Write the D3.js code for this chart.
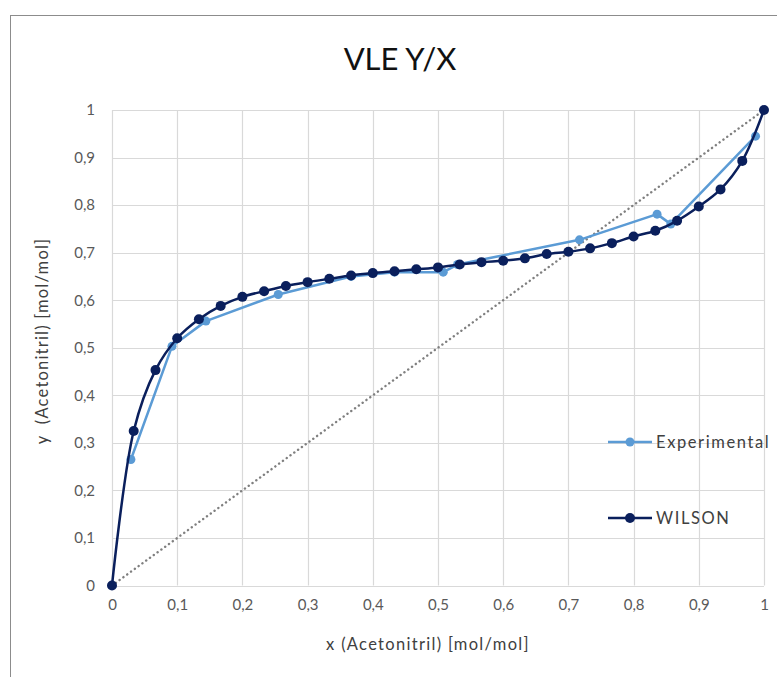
<!DOCTYPE html>
<html>
<head>
<meta charset="utf-8">
<script src="https://cdn.jsdelivr.net/npm/d3@7"></script>
<style>
  html, body { margin: 0; padding: 0; background: #ffffff; }
  svg { display: block; font-family: Lato, "Open Sans", sans-serif; }
</style>
</head>
<body>
<svg id="chart" width="777" height="677"></svg>
<script>
// Liquid mole fraction of acetonitrile (x) vs vapour mole fraction (y)
const expX = [0.029, 0.092, 0.144, 0.255, 0.3667, 0.4333, 0.508, 0.530, 0.717, 0.836, 0.857, 0.987];
const expY = [0.265, 0.503, 0.556, 0.612, 0.650, 0.659, 0.659, 0.675, 0.727, 0.781, 0.760, 0.945];

// Wilson model, evaluated on a regular grid of x = i/30
const wilsonX = [0, 0.0333, 0.0667, 0.1, 0.1333, 0.1667, 0.2, 0.2333, 0.2667, 0.3,
                 0.3333, 0.3667, 0.4, 0.4333, 0.4667, 0.5, 0.5333, 0.5667, 0.6, 0.6333,
                 0.6667, 0.7, 0.7333, 0.7667, 0.8, 0.8333, 0.8667, 0.9, 0.9333, 0.9667, 1];
const wilsonY = [0, 0.325, 0.453, 0.520, 0.560, 0.588, 0.607, 0.619, 0.630, 0.638,
                 0.645, 0.652, 0.657, 0.661, 0.665, 0.669, 0.675, 0.680, 0.683, 0.688,
                 0.697, 0.702, 0.709, 0.720, 0.734, 0.746, 0.767, 0.797, 0.833, 0.893, 1];

const diagonal = [0, 1];
const xTicks = [0, 0.1, 0.2, 0.3, 0.4, 0.5, 0.6, 0.7, 0.8, 0.9, 1];
const yTicks = [0, 0.1, 0.2, 0.3, 0.4, 0.5, 0.6, 0.7, 0.8, 0.9, 1];

const seriesNames = ["Experimental", "WILSON"];
const seriesColors = ["#5b9bd5", "#0a1f5c"];

const titleText = "VLE Y/X";
const xTitle = "x (Acetonitril) [mol/mol]";
const yTitle = "y  (Acetonitril) [mol/mol]";

const svg = d3.select("#chart");
const locale = d3.formatLocale({ decimal: ",", thousands: ".", grouping: [3], currency: ["", " €"] });
const fmt = locale.format("~g");

const x = d3.scaleLinear().domain([0, 1]).range([112, 764]);
const y = d3.scaleLinear().domain([0, 1]).range([585.5, 110]);

// chart frame
svg.append("rect")
  .attr("x", 10.5).attr("y", 15.5)
  .attr("width", 820).attr("height", 720)
  .attr("fill", "#ffffff")
  .attr("stroke", "#8c8c8c").attr("stroke-width", 1);

// title
svg.append("text")
  .attr("x", 400).attr("y", 70)
  .attr("text-anchor", "middle")
  .attr("font-size", 31)
  .attr("fill", "#111111")
  .text(titleText);

// gridlines
const grid = svg.append("g").attr("class", "grid");
grid.selectAll("line.v").data(xTicks).join("line")
  .attr("class", "v")
  .attr("x1", d => Math.round(x(d)) + 0.5).attr("x2", d => Math.round(x(d)) + 0.5)
  .attr("y1", y(0)).attr("y2", y(1))
  .attr("stroke", "#d9d9d9").attr("stroke-width", 1.2);
grid.selectAll("line.h").data(yTicks).join("line")
  .attr("class", "h")
  .attr("x1", x(0)).attr("x2", x(1))
  .attr("y1", d => Math.round(y(d)) + 0.5).attr("y2", d => Math.round(y(d)) + 0.5)
  .attr("stroke", "#d9d9d9").attr("stroke-width", 1.2);

// axes (labels only; the gridlines act as axis lines)
const xAxis = d3.axisBottom(x).tickValues(xTicks).tickFormat(fmt).tickSize(0).tickPadding(14);
const gx = svg.append("g").attr("transform", `translate(0,${y(0)})`).call(xAxis);
gx.select(".domain").remove();
gx.selectAll("text").attr("font-size", 15).attr("fill", "#595959").attr("font-family", "Lato, 'Open Sans', sans-serif");

const yAxis = d3.axisLeft(y).tickValues(yTicks).tickFormat(fmt).tickSize(0).tickPadding(17);
const gy = svg.append("g").attr("transform", `translate(${x(0)},0)`).call(yAxis);
gy.select(".domain").remove();
gy.selectAll("text").attr("font-size", 15).attr("fill", "#595959").attr("font-family", "Lato, 'Open Sans', sans-serif");

// axis titles
svg.append("text")
  .attr("x", 428).attr("y", 650)
  .attr("text-anchor", "middle")
  .attr("font-size", 16.5)
  .attr("letter-spacing", 1.3)
  .attr("fill", "#404040")
  .text(xTitle);
svg.append("text")
  .attr("transform", "translate(48,341) rotate(-90)")
  .attr("text-anchor", "middle")
  .attr("font-size", 16.5)
  .attr("letter-spacing", 1.2)
  .attr("fill", "#404040")
  .attr("xml:space", "preserve")
  .text(yTitle);

// y = x reference line
svg.append("line")
  .attr("x1", x(diagonal[0])).attr("y1", y(diagonal[0]))
  .attr("x2", x(diagonal[1])).attr("y2", y(diagonal[1]))
  .attr("stroke", "#7f7f7f").attr("stroke-width", 2.4)
  .attr("stroke-linecap", "round")
  .attr("stroke-dasharray", "0.1 4.6");

// measured points joined by straight segments, model curve smoothed
const straight = d3.line().x(d => x(d[0])).y(d => y(d[1]));
const smooth = d3.line().x(d => x(d[0])).y(d => y(d[1]))
  .curve(d3.curveCatmullRom.alpha(0.5));

function drawSeries(xs, ys, color, r, gen) {
  const pts = xs.map((v, i) => [v, ys[i]]);
  const g = svg.append("g");
  g.append("path").datum(pts)
    .attr("d", gen)
    .attr("fill", "none")
    .attr("stroke", color).attr("stroke-width", 2.5)
    .attr("stroke-linejoin", "round");
  g.selectAll("circle").data(pts).join("circle")
    .attr("cx", d => x(d[0])).attr("cy", d => y(d[1]))
    .attr("r", r).attr("fill", color);
}

drawSeries(expX, expY, seriesColors[0], 4.5, straight);
drawSeries(wilsonX, wilsonY, seriesColors[1], 5, smooth);

// legend
const legendY = [442, 518];
const legend = svg.append("g");
seriesNames.forEach((name, i) => {
  const g = legend.append("g").attr("transform", `translate(0,${legendY[i]})`);
  g.append("line").attr("x1", 608).attr("x2", 652).attr("y1", 0).attr("y2", 0)
    .attr("stroke", seriesColors[i]).attr("stroke-width", 2.5);
  g.append("circle").attr("cx", 630).attr("cy", 0).attr("r", i === 0 ? 4.5 : 5)
    .attr("fill", seriesColors[i]);
  g.append("text").attr("x", 656).attr("y", 6)
    .attr("font-size", 16.5).attr("letter-spacing", 1.6).attr("fill", "#404040")
    .text(name);
});
</script>
</body>
</html>
